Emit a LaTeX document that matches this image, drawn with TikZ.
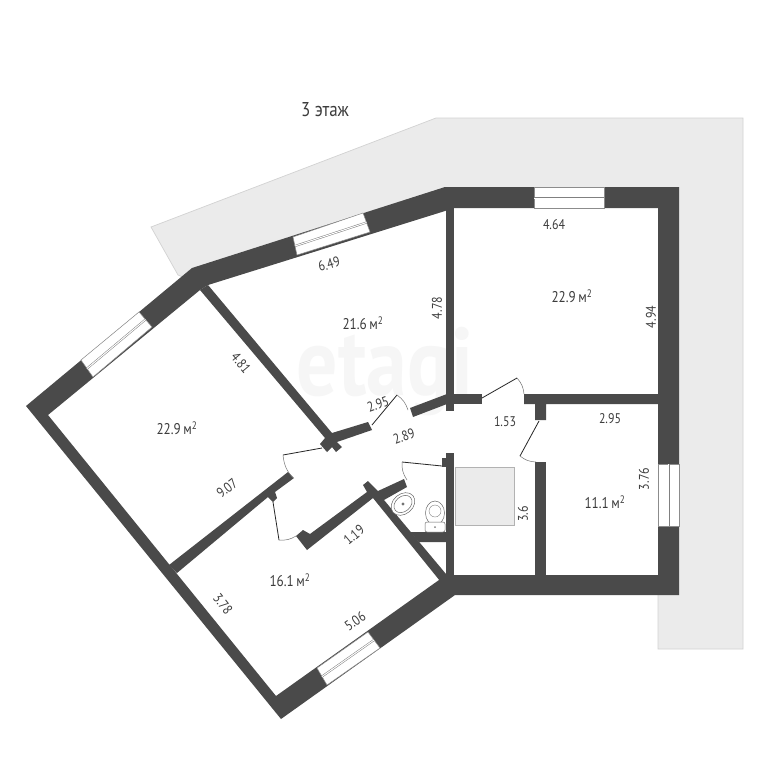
\documentclass[tikz,border=0pt]{standalone}
\usepackage{fontspec}
\setmainfont{PT Sans}[FakeStretch=0.85]
\definecolor{wallc}{HTML}{4A4A4A}
\definecolor{terr}{HTML}{EBEBEB}
\definecolor{terrl}{HTML}{D2D2D2}
\definecolor{txt}{HTML}{3C3C3C}
\definecolor{wm}{HTML}{F6F6F6}
\tikzset{
  wallpart/.style={fill=wallc,draw=none},
  winframe/.style={fill=white,draw=black!45,line width=.5pt},
  winglass/.style={draw=black!50,line width=.5pt,double=white,double distance=1pt},
  doorline/.style={draw=black!85,line width=.8pt},
  doorarc/.style={draw=black!55,line width=.5pt},
  lbl/.style={text=txt,font=\fontsize{14}{14}\selectfont,inner sep=0pt},
  area/.style={text=txt,font=\fontsize{15.5}{15.5}\selectfont,inner sep=0pt},
  fixture/.style={draw=black!60,line width=.5pt,fill=white}
}
\newcommand{\sqm}{\,м\textsuperscript{2}}
\begin{document}
\begin{tikzpicture}[x=1pt,y=-1pt]
\useasboundingbox (0,0) rectangle (768,768);
\fill[white] (0,0) rectangle (768,768);
% terrace
\filldraw[fill=terr,draw=terrl,line width=.7pt] (151,227) -- (436,118) -- (743,118) -- (743,649) -- (658,649) -- (658,590) -- (450,590) -- (190,280) -- (178,275) -- cycle;
% white interior under the walls
\fill[white] (48,415) -- (200,290) -- (208,285) -- (445,211) -- (453,208) -- (658,208) -- (658,575) -- (454,575) -- (445,575) -- (439,580) -- (276,696) -- cycle;
% watermark
\node[text=wm,font=\bfseries\fontsize{96}{96}\selectfont,inner sep=0pt] (mark) at (385,372) {etagi};
% stair block
\filldraw[fill=terr,draw=black!30,line width=.6pt] (455,467) rectangle (514,525);
% outer wall ring
\fill[wallc,even odd rule]
  (26,406) -- (192,268) -- (445,187) -- (679,187) -- (679,595) -- (455,595) -- (281,719) -- cycle
  (48,415) -- (200,290) -- (208,285) -- (445,211) -- (453,208) -- (658,208) -- (658,575) -- (454,575) -- (445,575) -- (439,580) -- (276,696) -- cycle;
% inner walls
\path[wallpart] (200,290) -- (208,285) -- (332,433) -- (368,422) -- (372,430) -- (337,442) -- (342,447) -- (336,452) -- (332,447) -- (327,452) -- (320,444) -- (325,438) -- cycle;
\path[wallpart] (169,565) -- (288,472) -- (294,478) -- (275,492) -- (277,498) -- (273,502) -- (268,497) -- (177,573) -- cycle;
\path[wallpart] (363,485) -- (368,481) -- (378,491) -- (404,479) -- (407,487) -- (384,500) -- (446,574) -- (446,581) -- (440,581) -- (373,498) -- (307,550) -- (296,536) -- (303,530) -- (310,534) -- (367,492) -- cycle;
\path[wallpart] (410,532) -- (447,532) -- (447,542) -- (419,542) -- cycle;
\path[wallpart] (446,208) rectangle (454,411);
\path[wallpart] (454,394) rectangle (482,404);
\path[wallpart] (410,408) -- (447,394) -- (447,404) -- (413,417) -- cycle;
\path[wallpart] (446,453) rectangle (454,576);
\path[wallpart] (442,458) rectangle (447,467);
\path[wallpart] (524,394) -- (659,394) -- (659,404) -- (546,404) -- (546,420) -- (535,420) -- (535,404) -- (524,404) -- cycle;
\path[wallpart] (535,462) rectangle (546,576);
% windows
\filldraw[winframe] (81,360) -- (139,312) -- (152,327) -- (93,377) -- cycle;
\draw[winglass] (87,368.5) -- (145.5,319.5);
\filldraw[winframe] (293,237) -- (363,213) -- (370,232) -- (297,255) -- cycle;
\draw[winglass] (295,246) -- (366.5,222.5);
\filldraw[winframe] (534,187) rectangle (604,208);
\draw[winglass] (534,198) -- (604,198);
\filldraw[winframe] (658,464) rectangle (679,526);
\draw[winglass] (668.5,464) -- (668.5,526);
\filldraw[winframe] (327,685) -- (380,648) -- (368,632) -- (317,668) -- cycle;
\draw[winglass] (322,676.5) -- (374,640);
% doors
\draw[doorline] (372,425) -- (397,395); \draw[doorarc] (397,395) to[bend left=18] (408,410);
\draw[doorline] (322,448) -- (283,455); \draw[doorarc] (283,455) to[bend right=18] (293,478);
\draw[doorline] (273,502) -- (279,540); \draw[doorarc] (279,540) to[bend right=18] (296,536);
\draw[doorline] (442,466) -- (402,462); \draw[doorarc] (402,462) to[bend right=18] (407,480);
\draw[doorline] (482,398) -- (517,378); \draw[doorarc] (517,378) to[bend left=18] (524,394);
\draw[doorline] (539,421) -- (520,456); \draw[doorarc] (520,456) to[bend right=18] (536,462);
% fixtures
\filldraw[fixture,rotate around={40:(403,504)}] (403,504) ellipse (13 and 10);
\draw[black!60,line width=.5pt,rotate around={40:(403,504)}] (403,504) ellipse (10 and 7.5);
\fill[black!55] (403,504) circle (1.6);
\filldraw[fixture] (435,513) ellipse (9.5 and 12);
\draw[black!50,line width=.4pt] (435,511) circle (6);
\filldraw[fixture,rounded corners=2pt] (425,522) rectangle (445,532);
\fill[black!50] (435,527) circle (1);
% labels
\node[text=txt,font=\fontsize{20}{20}\selectfont,inner sep=0pt] (title) at (325,110) {3 этаж};
\node[lbl,rotate=17] (a1) at (329,264) {6.49};
\node[lbl] (a2) at (554,225) {4.64};
\node[lbl,rotate=90] (a3) at (651,317) {4.94};
\node[lbl,rotate=90] (a4) at (437,308) {4.78};
\node[lbl,rotate=-50] (a5) at (241,363) {4.81};
\node[lbl,rotate=38] (a6) at (227,488) {9.07};
\node[lbl,rotate=20] (a7) at (378,404) {2.95};
\node[lbl,rotate=20] (a8) at (404,436) {2.89};
\node[lbl] (a9) at (505,422) {1.53};
\node[lbl] (a10) at (610,419) {2.95};
\node[lbl,rotate=90] (a11) at (644,479) {3.76};
\node[lbl,rotate=90] (a12) at (523,514) {3.6};
\node[lbl,rotate=40] (a13) at (354,535) {1.19};
\node[lbl,rotate=35] (a14) at (355,621) {5.06};
\node[lbl,rotate=-52] (a15) at (223,604) {3.78};
\node[area] (r1) at (177,428) {22.9\sqm};
\node[area] (r2) at (363,323) {21.6\sqm};
\node[area] (r3) at (572,296) {22.9\sqm};
\node[area] (r4) at (605,502) {11.1\sqm};
\node[area] (r5) at (290,580) {16.1\sqm};
\end{tikzpicture}
\end{document}
